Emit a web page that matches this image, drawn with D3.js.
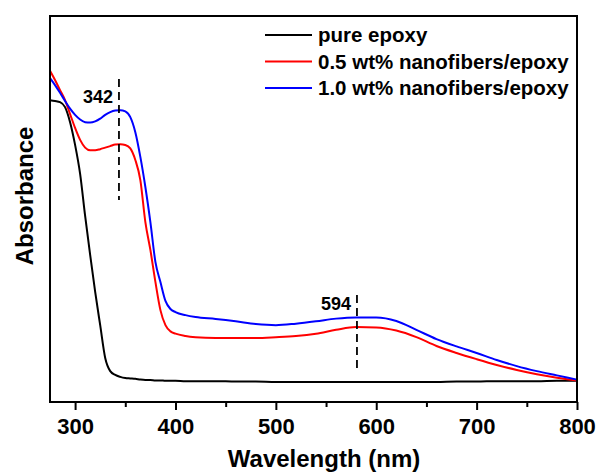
<!DOCTYPE html>
<meta charset="utf-8">
<style type="text/css">
body {
  margin: 0;
  background: #fff;
  font-family: "Liberation Sans", Arial, sans-serif;
}

.axis text {
  font-size: 22px;
  font-weight: bold;
  fill: #000;
}

.axis path,
.axis line {
  fill: none;
  stroke: #000;
  stroke-width: 2px;
}

.title {
  font-size: 24px;
  font-weight: bold;
}

.legend text {
  font-size: 20.5px;
  font-weight: bold;
}

.note {
  font-size: 18px;
  font-weight: bold;
}
</style>
<body>
<script src="https://cdn.jsdelivr.net/npm/d3@7"></script>
<script>
// wavelengths (nm) shared by the three spectra
var wavelength = [275, 280, 285, 290, 295, 300, 305, 310, 315, 320, 325, 330, 335, 340, 345,
  350, 355, 360, 365, 370, 375, 380, 385, 390, 395, 400, 410, 420, 440, 460, 480, 500, 520,
  540, 560, 580, 600, 620, 640, 660, 680, 700, 720, 740, 760, 780, 800];

var pureEpoxy = [0.782, 0.780, 0.777, 0.764, 0.725, 0.666, 0.591, 0.482, 0.381, 0.285, 0.199,
  0.114, 0.080, 0.070, 0.065, 0.062, 0.061, 0.060, 0.058, 0.057, 0.057, 0.056, 0.056, 0.055,
  0.055, 0.055, 0.054, 0.054, 0.054, 0.053, 0.053, 0.052, 0.052, 0.052, 0.052, 0.052, 0.052,
  0.052, 0.052, 0.052, 0.053, 0.053, 0.054, 0.054, 0.054, 0.055, 0.055];

var fiber05 = [0.858, 0.834, 0.808, 0.782, 0.746, 0.710, 0.679, 0.659, 0.652, 0.652, 0.655,
  0.659, 0.663, 0.667, 0.668, 0.666, 0.657, 0.627, 0.575, 0.466, 0.394, 0.311, 0.238, 0.199,
  0.183, 0.177, 0.171, 0.168, 0.166, 0.166, 0.166, 0.168, 0.171, 0.177, 0.187, 0.194, 0.193,
  0.185, 0.168, 0.145, 0.127, 0.111, 0.096, 0.083, 0.072, 0.063, 0.056];

var fiber10 = [0.839, 0.821, 0.801, 0.780, 0.760, 0.744, 0.732, 0.725, 0.724, 0.727, 0.734,
  0.744, 0.751, 0.755, 0.756, 0.753, 0.738, 0.699, 0.635, 0.557, 0.466, 0.363, 0.311, 0.262,
  0.241, 0.233, 0.225, 0.220, 0.215, 0.209, 0.202, 0.199, 0.203, 0.209, 0.216, 0.219, 0.219,
  0.210, 0.187, 0.163, 0.144, 0.127, 0.109, 0.093, 0.080, 0.069, 0.058];

var seriesNames = ["pure epoxy", "0.5 wt% nanofibers/epoxy", "1.0 wt% nanofibers/epoxy"];
var seriesColors = ["#000000", "#ff0000", "#0000ff"];

var xTicks = [300, 400, 500, 600, 700, 800];
var xMinorTicks = [350, 450, 550, 650, 750];

// peak markers: label, wavelength of dashed line, top and bottom absorbance
var peakLabels = ["342", "594"];
var peakX = [343.7, 580.8];
var peakTop = [0.837, 0.277];
var peakBottom = [0.523, 0.075];

var width = 596, height = 472;
var margin = { top: 16, right: 19, bottom: 70, left: 50 };

var svg = d3.select("body")
  .append("svg")
    .attr("width", width)
    .attr("height", height);

var xscale = d3.scaleLinear()
  .domain([275, 800])
  .range([margin.left, width - margin.right]);

var yscale = d3.scaleLinear()
  .domain([0, 1])
  .range([height - margin.bottom, margin.top]);

var bottom = height - margin.bottom;

// minor ticks first so major ones sit on top
svg.append("g")
  .attr("class", "axis")
  .attr("transform", "translate(0," + bottom + ")")
  .call(d3.axisBottom(xscale).tickValues(xMinorTicks).tickSize(5).tickFormat(""))
  .select(".domain").remove();

svg.append("g")
  .attr("class", "axis")
  .attr("transform", "translate(0," + bottom + ")")
  .call(d3.axisBottom(xscale).tickValues(xTicks).tickSize(8).tickPadding(8).tickSizeOuter(0))
  .select(".domain").remove();

var line = d3.line()
  .x(function(d) { return xscale(d[0]); })
  .y(function(d) { return yscale(d[1]); })
  .curve(d3.curveMonotoneX);

[pureEpoxy, fiber05, fiber10].forEach(function(vals, i) {
  svg.append("path")
    .datum(wavelength.map(function(w, j) { return [w, vals[j]]; }))
    .attr("fill", "none")
    .attr("stroke", seriesColors[i])
    .attr("stroke-width", 2)
    .attr("d", line);
});

// frame
svg.append("rect")
  .attr("x", margin.left)
  .attr("y", margin.top)
  .attr("width", width - margin.right - margin.left)
  .attr("height", bottom - margin.top)
  .attr("fill", "none")
  .attr("stroke", "#000")
  .attr("stroke-width", 2);

// dashed peak markers
peakLabels.forEach(function(lbl, i) {
  svg.append("line")
    .attr("x1", xscale(peakX[i]))
    .attr("x2", xscale(peakX[i]))
    .attr("y1", yscale(peakTop[i]))
    .attr("y2", yscale(peakBottom[i]))
    .attr("stroke", "#000")
    .attr("stroke-width", 1.8)
    .attr("stroke-dasharray", "8,5");

  svg.append("text")
    .attr("class", "note")
    .attr("x", xscale(peakX[i]) - 6)
    .attr("y", yscale(peakTop[i]) + (i == 0 ? 24 : 15))
    .attr("text-anchor", "end")
    .text(lbl);
});

// legend
var legend = svg.selectAll(".legend")
    .data(seriesNames)
  .enter().append("g")
    .attr("class", "legend")
    .attr("transform", function(d, i) { return "translate(265," + (35 + i * 26.5) + ")"; });

legend.append("line")
  .attr("x1", 0)
  .attr("x2", 47)
  .attr("stroke", function(d, i) { return seriesColors[i]; })
  .attr("stroke-width", 2);

legend.append("text")
  .attr("x", 53)
  .attr("dy", "0.36em")
  .text(function(d) { return d; });

// axis titles
svg.append("text")
  .attr("class", "title")
  .attr("x", 324)
  .attr("y", 467)
  .attr("text-anchor", "middle")
  .text("Wavelength (nm)");

svg.append("text")
  .attr("class", "title")
  .attr("transform", "translate(33,196) rotate(-90)")
  .attr("text-anchor", "middle")
  .text("Absorbance");
</script>
</body>
